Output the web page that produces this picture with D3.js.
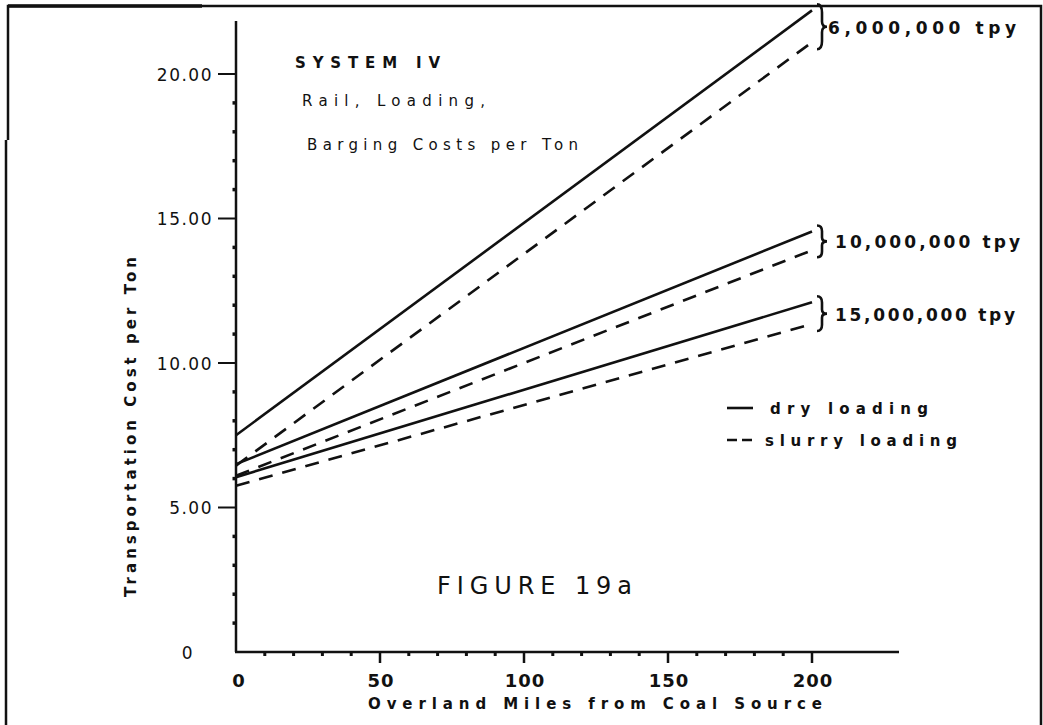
<!DOCTYPE html>
<html>
<head>
<meta charset="utf-8">
<script src="https://cdn.jsdelivr.net/npm/d3@7/dist/d3.min.js"></script>
<style>
  html, body { margin: 0; padding: 0; background: #fff; }
  svg { display: block; }
  text { fill: #111; }
</style>
</head>
<body>
<svg id="chart" width="1043" height="725"></svg>
<script>
// ---------------- data ----------------
const miles = [0, 200];
const tonnageLabels = ["6,000,000 tpy", "10,000,000 tpy", "15,000,000 tpy"];
const dry6M = [7.5, 22.2];
const slurry6M = [6.45, 21.1];
const dry10M = [6.5, 14.55];
const slurry10M = [6.1, 13.9];
const dry15M = [6.05, 12.1];
const slurry15M = [5.75, 11.35];
const yTickValues = [0, 5, 10, 15, 20];
const yTickLabels = ["0", "5.00", "10.00", "15.00", "20.00"];
const xTickValues = [0, 50, 100, 150, 200];
const xTickLabels = ["0", "50", "100", "150", "200"];
const yMinorTicks = [1,2,3,4,6,7,8,9,11,12,13,14,16,17,18,19];
const xMinorTicks = [10,20,30,40,60,70,80,90,110,120,130,140,160,170,180,190];
const legendLabels = ["dry loading", "slurry loading"];

// ---------------- layout ----------------
const svg = d3.select("#chart");
const x = d3.scaleLinear().domain([0, 200]).range([236, 812]);
const y = d3.scaleLinear().domain([0, 20]).range([652, 74]);
const ink = "#111";
const font = "'DejaVu Sans', sans-serif";

// frame (scanned page border)
svg.append("path")
  .attr("d", "M6,725 L6,140 M8,140 L8,6 L1041,6 L1041,725")
  .attr("fill", "none").attr("stroke", ink).attr("stroke-width", 2.5);
svg.append("line").attr("x1", 8).attr("x2", 202).attr("y1", 6).attr("y2", 6)
  .attr("stroke", ink).attr("stroke-width", 3.5);

// axes
const xMax = x.invert(899);
const yMax = y.invert(21);
svg.append("line").attr("x1", x(0)).attr("x2", x(0)).attr("y1", y(0)).attr("y2", y(yMax))
  .attr("stroke", ink).attr("stroke-width", 2.5);
svg.append("line").attr("x1", x(0) - 1).attr("x2", x(xMax)).attr("y1", y(0)).attr("y2", y(0))
  .attr("stroke", ink).attr("stroke-width", 2.5);

// y ticks
svg.selectAll(".ytick").data(yTickValues.filter(d => d > 0)).join("line")
  .attr("x1", x(0) - 18).attr("x2", x(0)).attr("y1", d => y(d)).attr("y2", d => y(d))
  .attr("stroke", ink).attr("stroke-width", 2);
svg.selectAll(".yminor").data(yMinorTicks).join("line")
  .attr("x1", x(0) - 3.5).attr("x2", x(0)).attr("y1", d => y(d)).attr("y2", d => y(d))
  .attr("stroke", ink).attr("stroke-width", 3.5);
svg.selectAll(".ylab").data(yTickValues).join("text")
  .attr("x", (d, i) => d === 0 ? 194 : 213)
  .attr("y", d => y(d) + 6.5)
  .attr("text-anchor", "end")
  .attr("font-family", font).attr("font-size", 17)
  .attr("letter-spacing", 1.5)
  .text((d, i) => yTickLabels[i]);

// x ticks
svg.selectAll(".xtick").data(xTickValues.filter(d => d > 0)).join("line")
  .attr("x1", d => x(d)).attr("x2", d => x(d)).attr("y1", y(0)).attr("y2", y(0) + 11)
  .attr("stroke", ink).attr("stroke-width", 2.5);
svg.selectAll(".xminor").data(xMinorTicks).join("line")
  .attr("x1", d => x(d)).attr("x2", d => x(d)).attr("y1", y(0)).attr("y2", y(0) + 4)
  .attr("stroke", ink).attr("stroke-width", 3);
svg.selectAll(".xlab").data(xTickValues).join("text")
  .attr("x", d => x(d) + (d === 0 ? 3 : 1))
  .attr("y", 687)
  .attr("text-anchor", "middle")
  .attr("font-family", font).attr("font-size", 18).attr("font-weight", "bold")
  .attr("letter-spacing", 1)
  .text((d, i) => xTickLabels[i]);

// axis titles
svg.append("text")
  .attr("x", 368).attr("y", 709)
  .attr("font-family", font).attr("font-size", 15).attr("font-weight", "bold")
  .attr("textLength", 454).attr("lengthAdjust", "spacing")
  .text("Overland Miles from Coal Source");
svg.append("text")
  .attr("transform", "translate(136,597) rotate(-90)")
  .attr("font-family", font).attr("font-size", 15).attr("font-weight", "bold")
  .attr("textLength", 340).attr("lengthAdjust", "spacing")
  .text("Transportation Cost per Ton");

// series lines
const line = d3.line().x((d, i) => x(miles[i])).y(d => y(d));
const series = [
  {v: dry6M, dash: null}, {v: slurry6M, dash: "14,10"},
  {v: dry10M, dash: null}, {v: slurry10M, dash: "14,10"},
  {v: dry15M, dash: null}, {v: slurry15M, dash: "14,10"}
];
svg.selectAll(".series").data(series).join("path")
  .attr("d", d => line(d.v))
  .attr("fill", "none").attr("stroke", ink).attr("stroke-width", 2.6)
  .attr("stroke-dasharray", d => d.dash);

// braces and tonnage labels
function bracePath(bx, y1, y2, w) {
  const h = y2 - y1, m = (y1 + y2) / 2;
  return `M${bx},${y1} Q${bx + w},${y1} ${bx + w},${y1 + h * 0.18}` +
    ` L${bx + w},${m - h * 0.12} Q${bx + w},${m} ${bx + 2 * w},${m}` +
    ` Q${bx + w},${m} ${bx + w},${m + h * 0.12} L${bx + w},${y2 - h * 0.18}` +
    ` Q${bx + w},${y2} ${bx},${y2}`;
}
const pairs = [[dry6M, slurry6M], [dry10M, slurry10M], [dry15M, slurry15M]];
const labelLens = [188, 185, 180];
pairs.forEach((p, i) => {
  const top = y(p[0][1]) - 6, bot = y(p[1][1]) + 7;
  svg.append("path").attr("d", bracePath(x(200) + 5, top, bot, 5))
    .attr("fill", "none").attr("stroke", ink).attr("stroke-width", 2.6);
  svg.append("text")
    .attr("x", i === 0 ? 828 : 835).attr("y", (top + bot) / 2 + 7)
    .attr("font-family", font).attr("font-size", 17).attr("font-weight", "bold")
    .attr("textLength", labelLens[i]).attr("lengthAdjust", "spacing")
    .text(tonnageLabels[i]);
});

// annotations
svg.append("text").attr("x", 295).attr("y", 68)
  .attr("font-family", font).attr("font-size", 15).attr("font-weight", "bold")
  .attr("textLength", 145).attr("lengthAdjust", "spacing").text("SYSTEM IV");
svg.append("text").attr("x", 302).attr("y", 106)
  .attr("font-family", font).attr("font-size", 15)
  .attr("textLength", 183).attr("lengthAdjust", "spacing").text("Rail, Loading,");
svg.append("text").attr("x", 307).attr("y", 150)
  .attr("font-family", font).attr("font-size", 15)
  .attr("textLength", 271).attr("lengthAdjust", "spacing").text("Barging Costs per Ton");
svg.append("text").attr("x", 437).attr("y", 594)
  .attr("font-family", font).attr("font-size", 24)
  .attr("textLength", 195).attr("lengthAdjust", "spacing").text("FIGURE 19a");

// legend
svg.append("line").attr("x1", 727).attr("x2", 753).attr("y1", 408).attr("y2", 408)
  .attr("stroke", ink).attr("stroke-width", 2.6);
svg.append("line").attr("x1", 727).attr("x2", 753).attr("y1", 440).attr("y2", 440)
  .attr("stroke", ink).attr("stroke-width", 2.6).attr("stroke-dasharray", "10,5");
svg.append("text").attr("x", 770).attr("y", 414)
  .attr("font-family", font).attr("font-size", 15).attr("font-weight", "bold")
  .attr("textLength", 158).attr("lengthAdjust", "spacing").text(legendLabels[0]);
svg.append("text").attr("x", 765).attr("y", 446)
  .attr("font-family", font).attr("font-size", 15).attr("font-weight", "bold")
  .attr("textLength", 192).attr("lengthAdjust", "spacing").text(legendLabels[1]);
</script>
</body>
</html>
